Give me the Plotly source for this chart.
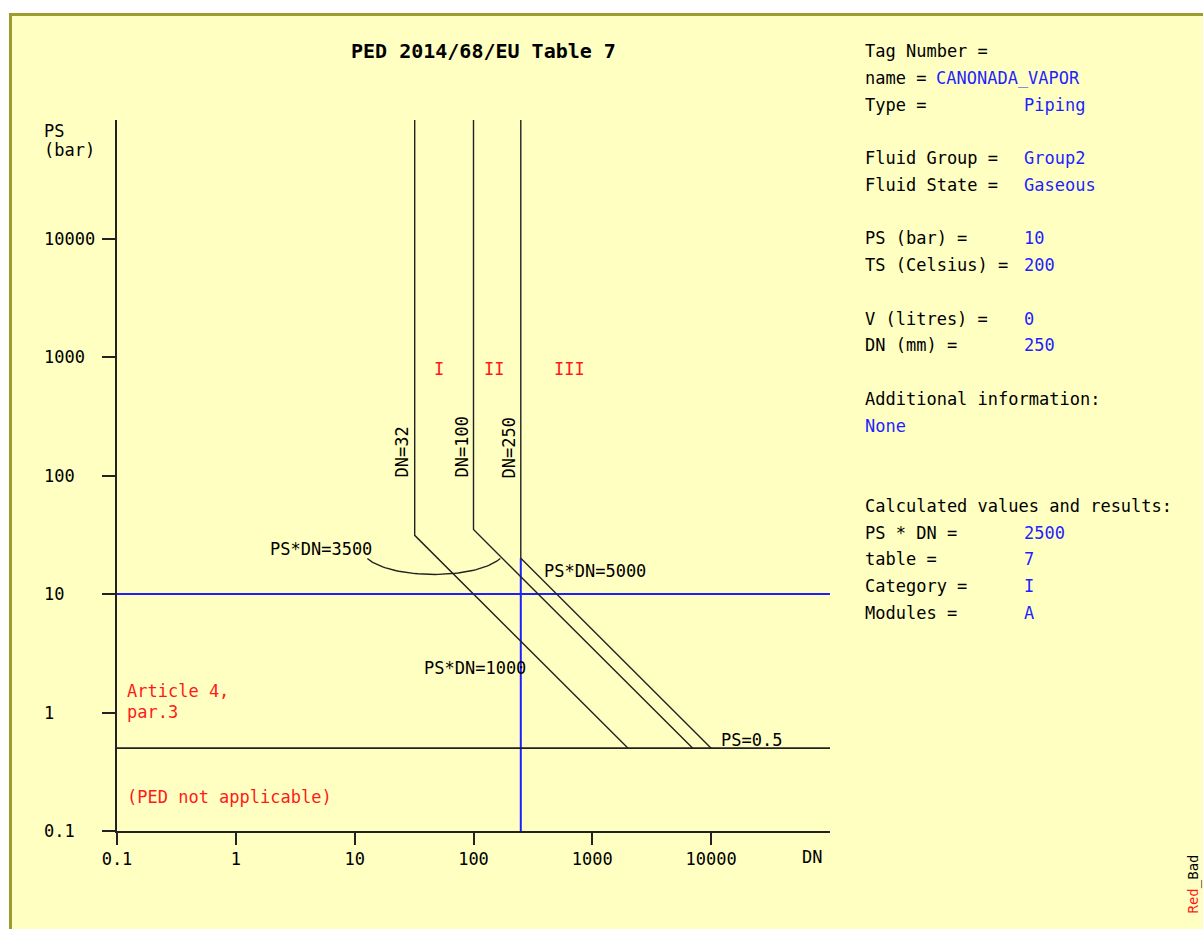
import numpy as np
import plotly.graph_objects as go

# ---------------- data ----------------
dn_limits = [32, 100, 250]            # vertical boundaries DN
psdn_limits = [1000, 3500, 5000]      # PS*DN boundaries
ps_min = 0.5                          # PS lower limit
axis_min, axis_max = 0.1, 100000
ps_design = 10
dn_design = 250
design_top = 20                       # blue vertical stops at DN=250 boundary
x_tickvals = [0.1, 1, 10, 100, 1000, 10000]
x_ticktext = ["0.1", "1", "10", "100", "1000", "10000"]
y_tickvals = [0.1, 1, 10, 100, 1000, 10000]
y_ticktext = ["0.1", "1", "10", "100", "1000", "10000"]
categories = ["I", "II", "III"]
cat_x = [51, 149, 637]                # DN positions of category labels
cat_y = 790

info_rows = [0, 1, 2, 4, 5, 7, 8, 10, 11, 13, 14, 17, 18, 19, 20, 21]
info_labels = ["Tag Number =", "name =", "Type =", "Fluid Group =", "Fluid State =",
               "PS (bar) =", "TS (Celsius) =", "V (litres) =", "DN (mm) =",
               "Additional information:", "", "Calculated values and results:",
               "PS * DN =", "table =", "Category =", "Modules ="]
info_values = ["", "CANONADA_VAPOR", "Piping", "Group2", "Gaseous",
               "10", "200", "0", "250", "", "None", "",
               "2500", "7", "I", "A"]

# arc (ellipse in log space) under PS*DN=3500 label
arc_cx, arc_cy, arc_a, arc_b = 1.666, 1.370, 0.595, 0.205
arc_t0, arc_t1 = 200, 340

FONT = "DejaVu Sans Mono"
BLUE = "#1f1fff"
RED = "#ff1a1a"

L, R, T, B = 117, 830, 120, 831
W, H = 1203, 929


def px(x):
    return (x - L) / (R - L)


def py(y):
    return (B - y) / (B - T)


fig = go.Figure()

# design point lines (blue)
fig.add_trace(go.Scatter(x=[axis_min, axis_max], y=[ps_design, ps_design], mode="lines",
                         line=dict(color=BLUE, width=2), hoverinfo="skip"))
fig.add_trace(go.Scatter(x=[dn_design, dn_design], y=[axis_min, design_top], mode="lines",
                         line=dict(color=BLUE, width=2), hoverinfo="skip"))

# PS = 0.5 line
fig.add_trace(go.Scatter(x=[axis_min, axis_max], y=[ps_min, ps_min], mode="lines",
                         line=dict(color="#222", width=1.6), hoverinfo="skip"))

# category boundaries
for dn, k in zip(dn_limits, psdn_limits):
    xs = [dn, dn, k / ps_min]
    ys = [axis_max, k / dn, ps_min]
    fig.add_trace(go.Scatter(x=xs, y=ys, mode="lines",
                             line=dict(color="#222", width=1.4), hoverinfo="skip"))

# arc
t = np.radians(np.linspace(arc_t0, arc_t1, 60))
ax_ = 10 ** (arc_cx + arc_a * np.cos(t))
ay_ = 10 ** (arc_cy + arc_b * np.sin(t))
fig.add_trace(go.Scatter(x=ax_, y=ay_, mode="lines",
                         line=dict(color="#222", width=1.4), hoverinfo="skip"))

ann = []


def text(x, y, s, color="black", size=17, xanchor="left", yanchor="middle", angle=0, xref="paper", yref="paper"):
    ann.append(dict(x=x, y=y, xref=xref, yref=yref, text=s, showarrow=False,
                    xanchor=xanchor, yanchor=yanchor, textangle=angle,
                    font=dict(family=FONT, size=size, color=color)))


# title
text(px(483), py(51), "<b>PED 2014/68/EU Table 7</b>", size=20, xanchor="center")
# axis labels
text(px(42), py(131), "PS")
text(px(42), py(150), "(bar)")
text(px(800), py(857), "DN")
# y tick labels (left aligned)
for v, s in zip(y_tickvals, y_ticktext):
    text(px(42), np.log10(v), s, yref="y")
# vertical DN labels
for dn, xc in zip(dn_limits, [401, 461, 508]):
    text(px(xc), py(480), "DN=%d" % dn, xanchor="center", yanchor="bottom", angle=-90)
# categories
for c, xv in zip(categories, cat_x):
    text(np.log10(xv), np.log10(cat_y), c, color=RED, xanchor="center", xref="x", yref="y")
# boundary labels
text(px(268), py(549), "PS*DN=3500")
text(px(542), py(571), "PS*DN=5000")
text(px(422), py(668), "PS*DN=1000")
text(px(719), py(740), "PS=0.5")
text(px(125), py(691), "Article 4,", color=RED)
text(px(125), py(712), "par.3", color=RED)
text(px(125), py(797), "(PED not applicable)", color=RED)

# info panel
for r, lab, val in zip(info_rows, info_labels, info_values):
    yy = py(51 + r * 26.75)
    if lab:
        text(px(863), yy, lab)
    if val:
        if lab == "":
            xv = 863
        elif lab == "name =":
            xv = 934
        else:
            xv = 1022
        text(px(xv), yy, val, color=BLUE)

# corner mark
text(px(1193), py(853), "<span style='color:%s'>Red</span>_Bad" % RED, size=14,
     xanchor="center", yanchor="top", angle=-90)

fig.update_layout(
    width=W, height=H,
    margin=dict(l=L, r=W - R, t=T, b=H - B, pad=0),
    paper_bgcolor="white", plot_bgcolor="rgba(0,0,0,0)",
    showlegend=False,
    font=dict(family=FONT, size=17, color="black"),
    annotations=ann,
    shapes=[dict(type="rect", xref="paper", yref="paper",
                 x0=px(10.5), x1=px(1215), y0=py(14.5), y1=py(945),
                 fillcolor="#ffffc2", line=dict(color="#9c9c30", width=3), layer="below")],
    xaxis=dict(type="log", range=[-1, 5], showline=True, linecolor="#222", linewidth=1.6,
               ticks="outside", ticklen=12, tickwidth=1.5, tickcolor="#222",
               tickvals=x_tickvals, ticktext=x_ticktext, showgrid=False, zeroline=False,
               tickfont=dict(family=FONT, size=17, color="black")),
    yaxis=dict(type="log", range=[-1, 5], showline=True, linecolor="#222", linewidth=1.6,
               ticks="outside", ticklen=13, tickwidth=1.5, tickcolor="#222",
               tickvals=y_tickvals, showticklabels=False, showgrid=False, zeroline=False),
)

fig.write_html("out.html", config={"displayModeBar": False},
               post_script="document.body.style.margin='0';document.body.style.overflow='hidden';")
